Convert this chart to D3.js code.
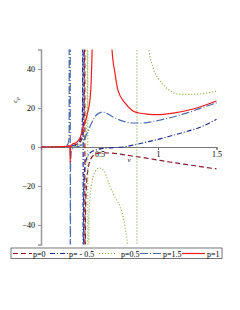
<!DOCTYPE html>
<html>
<head>
<meta charset="utf-8">
<script src="https://cdn.jsdelivr.net/npm/d3@7"></script>
<style>
body { margin: 0; background: #fff; }
text { font-family: "Liberation Serif", "Times New Roman", serif; }
</style>
</head>
<body>
<svg id="viz" width="240" height="310"></svg>
<script>
// values; big numbers near poles give the joining verticals
var v_p0   = [0, 0.1, 0.2, 0.3, 0.34, 0.36, 0.37, 0.374, 0.376, 0.38, 0.39, 0.4, 0.42, 0.45, 0.5, 0.6, 0.7, 0.8, 0.9, 1.0, 1.1, 1.2, 1.3, 1.4, 1.5];
var cp_p0  = [0, 0, 0.2, 1.2, 3, 8, 25, 2000, -2000, -35, -18, -12, -7, -4.2, -3, -3.1, -3.9, -4.8, -5.7, -6.7, -7.7, -8.6, -9.5, -10.4, -11.2];

var v_pm05  = [0, 0.1, 0.2, 0.3, 0.33, 0.35, 0.356, 0.359, 0.361, 0.365, 0.37, 0.38, 0.4, 0.43, 0.47, 0.5, 0.6, 0.7, 0.79, 0.9, 1.0, 1.08, 1.2, 1.36, 1.5];
var cp_pm05 = [0, 0, 0.2, 1, 3, 8, 25, 2000, -2000, -25, -14, -8, -4.5, -2.5, -1.5, -1, -0.4, 0, 1, 2.5, 3.9, 5.2, 7.2, 10.1, 14.2];

var v_p05  = [0, 0.1, 0.2, 0.3, 0.35, 0.38, 0.395, 0.399, 0.401, 0.41, 0.43, 0.46, 0.5, 0.54, 0.59, 0.64, 0.675, 0.718, 0.738, 0.76, 0.79, 0.819, 0.821, 0.86, 0.9, 0.923, 0.957, 1.017, 1.1, 1.19, 1.3, 1.42, 1.5];
var cp_p05 = [0, 0, 0.1, 0.6, 2, 6, 20, 2000, -2000, -35, -20, -13, -10.8, -12.5, -20.3, -26.5, -30.6, -40.9, -50, -70, -150, -3000, 3000, 150, 70, 50, 41, 34, 29, 27, 27, 27.7, 28.7];

var v_p15  = [0, 0.1, 0.2, 0.23, 0.24, 0.2495, 0.2505, 0.252, 0.26, 0.28, 0.3, 0.33, 0.35, 0.36, 0.38, 0.4, 0.43, 0.46, 0.5, 0.53, 0.56, 0.615, 0.7, 0.786, 0.86, 0.93, 1.0, 1.128, 1.25, 1.359, 1.5];
var cp_p15 = [0, 0, 0.3, 1.5, 5, 2000, -2000, -12, -2, -0.5, 0, 0.5, 1.2, 2, 5, 8, 12, 15.5, 17.5, 17.9, 17.3, 15.4, 13.3, 12.3, 12.3, 12.8, 13.6, 15.4, 17.5, 19.8, 22.6];

var v_p1   = [0, 0.1, 0.2, 0.24, 0.247, 0.25, 0.253, 0.27, 0.3, 0.333, 0.36, 0.393, 0.42, 0.43, 0.437, 0.445, 0.5, 0.59, 0.607, 0.632, 0.658, 0.718, 0.786, 0.85, 0.906, 1.0, 1.128, 1.3, 1.5];
var cp_p1  = [0, 0, 0.2, 0.6, 0, -8, 0.5, 1.5, 2.2, 4.6, 9.7, 16.4, 25, 35, 50, 80, 120, 80, 50, 38, 29, 22.6, 18.5, 17.3, 16.9, 16.6, 17.4, 19.5, 23.6];

var seriesNames = ["p=0", "p= - 0.5", "p=0.5", "p=1.5", "p=1"];
var yTicks = [-40, -20, 0, 20, 40];
var xTicks = [0.5, 1, 1.5];

var series = [
  {name: seriesNames[0], v: v_p0,   cp: cp_p0,   color: "#8b1c2c", dash: "5,3"},
  {name: seriesNames[1], v: v_pm05, cp: cp_pm05, color: "#1f2b8e", dash: "5,2,1,2"},
  {name: seriesNames[2], v: v_p05,  cp: cp_p05,  color: "#86aa3a", dash: "1,2"},
  {name: seriesNames[3], v: v_p15,  cp: cp_p15,  color: "#4b6eaf", dash: "8,2,1,2"},
  {name: seriesNames[4], v: v_p1,   cp: cp_p1,   color: "#f21c1c", dash: null}
];

var svg = d3.select("#viz");
var x = d3.scaleLinear().domain([0, 1.5]).range([41, 216.5]);
var y = d3.scaleLinear().domain([-50, 50]).range([244.5, 49.5]);

svg.append("clipPath").attr("id", "clip")
  .append("rect")
  .attr("x", x(0)).attr("y", y(50))
  .attr("width", x(1.5) - x(0) + 1).attr("height", y(-50) - y(50));

// axes
var yAxis = svg.append("g")
  .attr("transform", "translate(" + x(0) + ",0)")
  .call(d3.axisLeft(y).tickValues(yTicks).tickSize(3).tickFormat(d3.format("d")));
yAxis.select(".domain").attr("stroke", "#999").attr("stroke-width", 1.5);
yAxis.selectAll(".tick line").attr("stroke", "#999");
yAxis.selectAll(".tick text").attr("font-size", 8).attr("fill", "#000")
  .text(function(d){ return d < 0 ? "\u2212" + Math.abs(d) : d; });

var xAxis = svg.append("g")
  .attr("transform", "translate(0," + y(0) + ")")
  .call(d3.axisBottom(x).tickValues(xTicks).tickSize(3).tickFormat(function(d){ return String(d); }));
xAxis.select(".domain").attr("stroke", "#777").attr("stroke-width", 1.2);
xAxis.selectAll(".tick line").attr("stroke", "#777");
xAxis.selectAll(".tick text").attr("font-size", 8).attr("fill", "#000").attr("dy", "0.5em");

// curves
var line = d3.line()
  .curve(d3.curveMonotoneX)
  .x(function(d){ return x(d[0]); })
  .y(function(d){ return y(d[1]); });

var plot = svg.append("g").attr("clip-path", "url(#clip)");
series.forEach(function(s){
  var pts = s.v.map(function(v, i){ return [v, s.cp[i]]; });
  plot.append("path")
    .attr("d", line(pts))
    .attr("fill", "none")
    .attr("stroke", s.color)
    .attr("stroke-width", 1.2)
    .attr("stroke-dasharray", s.dash);
});

// axis labels
svg.append("text")
  .attr("x", 129).attr("y", 162)
  .attr("font-size", 7).attr("font-style", "italic")
  .attr("text-anchor", "middle")
  .text("v");

var cpLabel = svg.append("text")
  .attr("transform", "translate(17,100) rotate(-90)")
  .attr("font-size", 7).attr("font-style", "italic")
  .attr("text-anchor", "middle");
cpLabel.append("tspan").text("c");
cpLabel.append("tspan").attr("font-size", 5).attr("dy", 2).text("p");

// legend
var legend = svg.append("g");
legend.append("rect")
  .attr("x", 11).attr("y", 248).attr("width", 211).attr("height", 10.5)
  .attr("fill", "#fff").attr("stroke", "#555").attr("stroke-width", 0.8);

var legendPos = [
  {x1: 13, x2: 32, tx: 33},
  {x1: 50, x2: 68, tx: 69},
  {x1: 99, x2: 117, tx: 121},
  {x1: 140, x2: 162, tx: 163},
  {x1: 182, x2: 205, tx: 207}
];
series.forEach(function(s, i){
  var p = legendPos[i];
  legend.append("line")
    .attr("x1", p.x1).attr("x2", p.x2)
    .attr("y1", 253.5).attr("y2", 253.5)
    .attr("stroke", s.color).attr("stroke-width", 1.2)
    .attr("stroke-dasharray", s.dash);
  legend.append("text")
    .attr("x", p.tx).attr("y", 256.5)
    .attr("font-size", 8)
    .text(s.name);
});
</script>
</body>
</html>
